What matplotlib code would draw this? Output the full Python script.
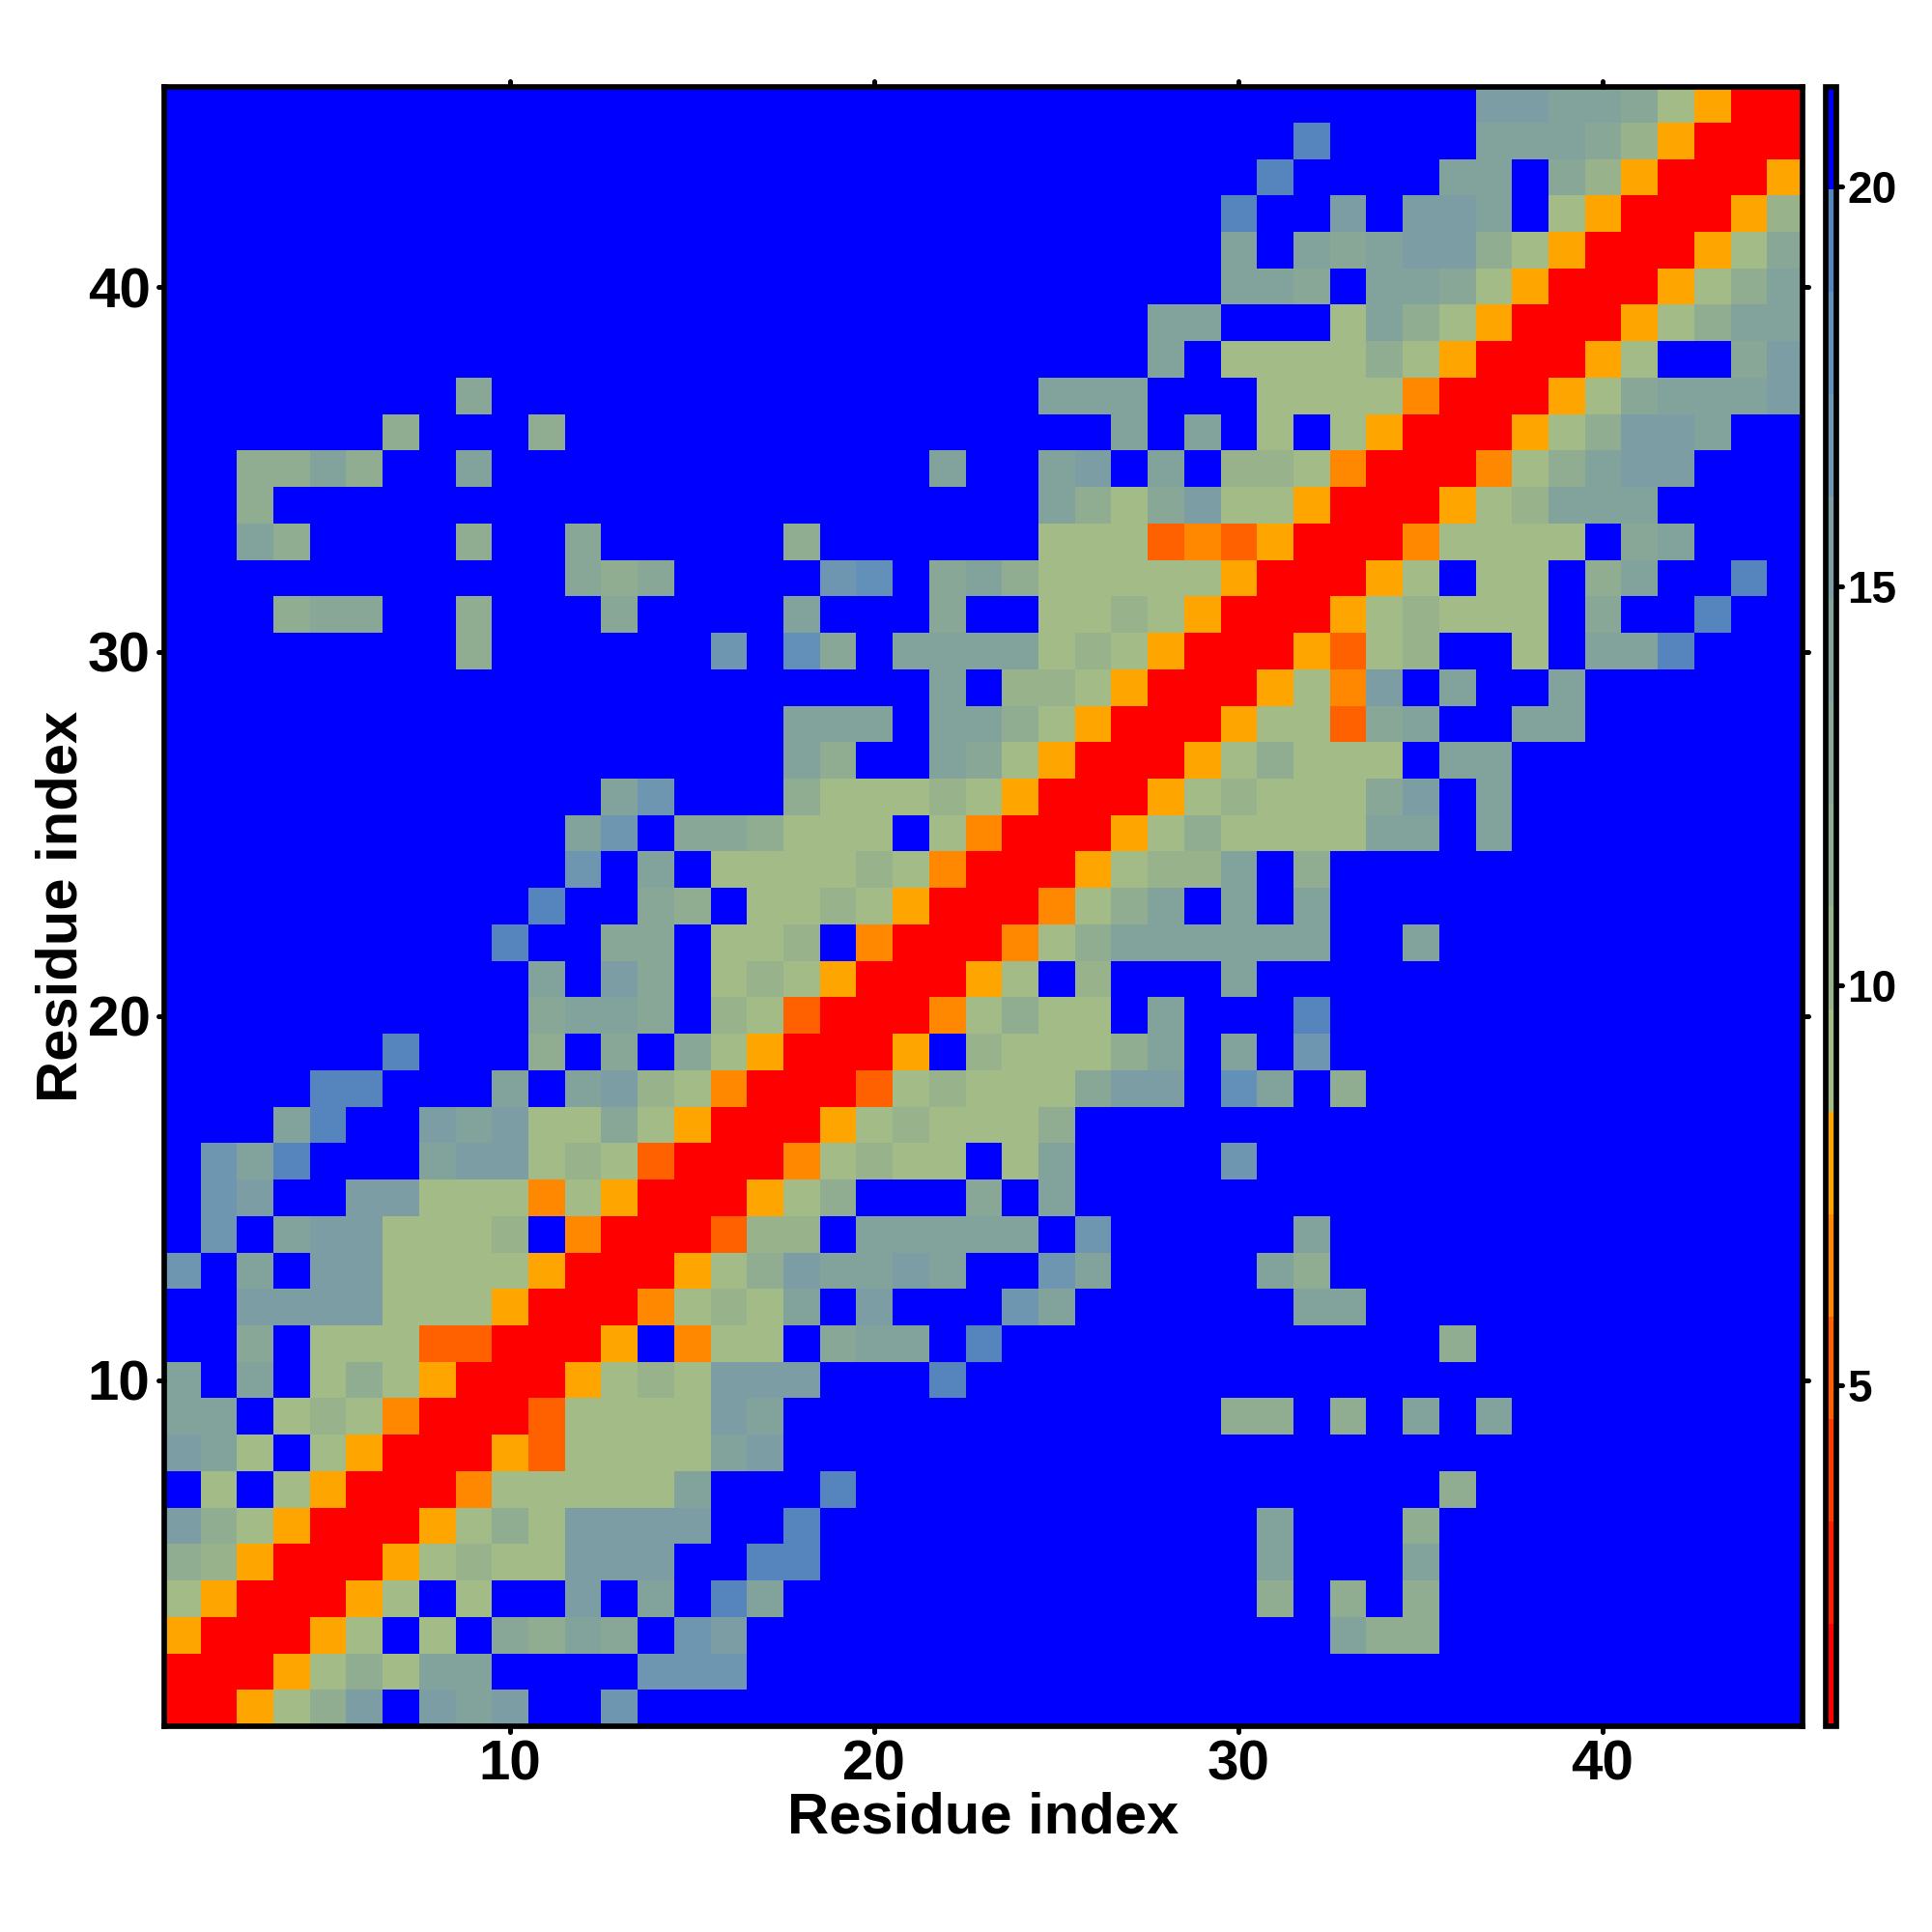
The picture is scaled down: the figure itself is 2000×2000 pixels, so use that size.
import numpy as np
import matplotlib
matplotlib.use("Agg")
import matplotlib.pyplot as plt
from matplotlib.colors import ListedColormap, Normalize
from matplotlib.markers import MarkerStyle

plt.rcParams['font.family'] = ['Liberation Sans', 'DejaVu Sans']
plt.rcParams['font.weight'] = 'bold'

# Distance bins, one colour each (0 = closest, f = farthest)
VMIN = 0.73
VMAX = 21.25
BIN_COLORS = ['#ff0000', '#ff1e00', '#ff3c00', '#ff6000', '#ff8800', '#ffa500',
              '#a2bb87', '#98b28c', '#90ad92', '#88a797', '#81a39c', '#7b9da3',
              '#6e96b0', '#6390b8', '#5585bc', '#0000ff']
BIN_CODES = '0123456789abcdef'

# One string per row, residue 45 at the top, '.' = beyond the last bin
CONTACT_ROWS = [
    ".......... .......... .......... ......bbaa 96500",
    ".......... .......... .......... .e....aaa9 75000",
    ".......... .......... .......... e....aa.97 50005",
    ".......... .......... .........e ..b.bba.65 00057",
    ".......... .......... .........a .a9abb8650 00569",
    ".......... .......... .........a a9.aa96500 0568a",
    ".......... .......... .......aa. ..6a865000 568aa",
    ".......... .......... .......a.6 6668650005 6..9b",
    "........9. .......... ....aaa... 6666400056 9aaab",
    "......8... 8......... ......a.a. 6.65000568 bba..",
    "..88a8..a. .......... .a..ab.a.7 764000468a bb...",
    "..8....... .......... ....a869b6 65000567aa a....",
    "..a8....8. .9.....8.. ....666343 500046666. 9a...",
    ".......... .989....cd .9a8666665 00056.66.8 a..e.",
    "...899..8. ..9....a.. .9..667650 00567666.9 ..e..",
    "........8. .....c.d9. aaaa676500 05367..6.a ae...",
    ".......... .......... .a.7765000 564b.a..a. .....",
    ".......... .......aaa .aa8650005 6639a..aa. .....",
    ".......... .......a8. .a96500056 8666.aa... .....",
    ".......... ..ac...866 6765000567 6669b.a... .....",
    ".......... .ac.998666 .640005686 666aa.a... .....",
    ".......... .c.a.66667 640005677a .8........ .....",
    ".......... e..98.6676 5000468a.a .a........ .....",
    ".........e ..99.667.4 000468aaaa aa..a..... .....",
    ".......... a.b9.67650 0056.7...a .......... .....",
    ".......... 9aa9.76300 046866.a.. .e........ .....",
    "......e... 8.9.965000 5.76668a.a .c........ .....",
    "....ee...a .ab7640003 676669bb.d a.8....... .....",
    "...ae..bab 6696500056 76668..... .......... .....",
    ".cae...abb 6763000467 66.6a....c .......... .....",
    ".cb..bb666 465000568. ..9.a..... .......... .....",
    ".c.abb6667 .4000377.a aaaa.c.... .a........ .....",
    "c.a.bb6666 5000568baa ba..ca.... a8........ .....",
    "..bbbb6665 0004676a.b ...ca..... .aa....... .....",
    "..9.666330 005.466.9a a.e....... .....8.... .....",
    "a.a.686500 05676bbb.. .e........ .......... .....",
    "aa.6764000 36666ba... .........8 8.8.a.a... .....",
    "ba6.650005 36666ab... .......... .......... .....",
    ".6.6500046 6666a...e. .......... .....8.... .....",
    "b865000568 6bbbb..e.. .......... a...8..... .....",
    "8750005676 6bbb..ee.. .......... a...a..... .....",
    "6500056.6. .b.a.ea... .......... 8.8.8..... .....",
    "500056.6.9 8a9.cb.... .......... ..a88..... .....",
    "0005686aa. ...ccc.... .......... .......... .....",
    "00568b.bab ..c....... .......... .......... .....",
]
AXIS_TICKS = [10, 20, 30, 40]
CBAR_TICKS = [5, 10, 15, 20]
AXIS_LABEL = 'Residue index'

W = 2000.0
FRAME_LW = 4.1


def frame(x0, y0, x1, y1):
    # pixel box, y from the top, to figure fractions
    return [x0 / W, 1 - y1 / W, (x1 - x0) / W, (y1 - y0) / W]


def to_bin(ch):
    return BIN_CODES.index('f' if ch == '.' else ch)


def round_ticks(axis):
    for t in axis.get_major_ticks():
        for line in (t.tick1line, t.tick2line):
            line.set_marker(MarkerStyle(line.get_marker(), capstyle='round'))


# Build the matrix, bottom row first, each cell at the middle of its bin
rows = [r.replace(' ', '') for r in CONTACT_ROWS]
bins = np.array([[to_bin(c) for c in r] for r in rows[::-1]])
step = (VMAX - VMIN) / len(BIN_COLORS)
values = VMIN + (bins + 0.5) * step

cmap = ListedColormap(BIN_COLORS)
norm = Normalize(VMIN, VMAX)

fig = plt.figure(figsize=(20, 20), dpi=100)
ax = fig.add_axes(frame(169.5, 90, 1866, 1787))
im = ax.imshow(values, cmap=cmap, norm=norm, origin='lower', aspect='auto',
               interpolation='nearest', extent=(0.5, 45.5, 0.5, 45.5))

ax.set_xticks(AXIS_TICKS)
ax.set_yticks(AXIS_TICKS)
ax.tick_params(top=True, right=True, length=4, width=3.6, labelsize=42, pad=6)
ax.set_xlabel(AXIS_LABEL, fontsize=43, fontweight='bold')
ax.set_ylabel(AXIS_LABEL, fontsize=43, fontweight='bold')
ax.xaxis.set_label_coords(0.5, -0.040)
ax.yaxis.set_label_coords(-0.046, 0.5)
for s in ax.spines.values():
    s.set_linewidth(FRAME_LW)

cax = fig.add_axes(frame(1889.5, 90, 1901, 1787))
cb = fig.colorbar(im, cax=cax, ticks=CBAR_TICKS)
cb.ax.tick_params(length=4, width=3.6, labelsize=33, pad=4)
cb.outline.set_linewidth(FRAME_LW)

round_ticks(ax.xaxis)
round_ticks(ax.yaxis)
round_ticks(cb.ax.yaxis)

fig.savefig('out.png', dpi=100)
